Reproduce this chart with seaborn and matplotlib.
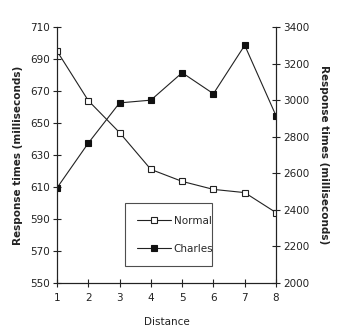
import matplotlib
matplotlib.use("Agg")
import matplotlib.pyplot as plt
import seaborn as sns
import pandas as pd

# Response times by distance for the two groups
distance = [1, 2, 3, 4, 5, 6, 7, 8]
normal_ms = [695, 664, 644, 621, 613.5, 608.5, 606.5, 594]
charles_ms = [2520, 2765, 2985, 3000, 3150, 3035, 3300, 2915]

left_ticks = [550, 570, 590, 610, 630, 650, 670, 690, 710]
right_ticks = [2000, 2200, 2400, 2600, 2800, 3000, 3200, 3400]

sns.set_style("ticks")
plt.rcParams["font.family"] = ["Liberation Sans Narrow", "DejaVu Sans Condensed", "DejaVu Sans"]

df = pd.DataFrame({"Distance": distance, "Normal": normal_ms, "Charles": charles_ms})

fig = plt.figure(figsize=(3.4, 3.35), dpi=100)
ax = fig.add_axes([57 / 340, 1 - 283 / 335, 219 / 340, 256 / 335])
ax2 = ax.twinx()

sns.lineplot(data=df, x="Distance", y="Normal", ax=ax, color="#222222",
             marker="s", markersize=5, markerfacecolor="white",
             markeredgecolor="#222222", markeredgewidth=0.8, linewidth=0.8,
             legend=False)
sns.lineplot(data=df, x="Distance", y="Charles", ax=ax2, color="#222222",
             marker="s", markersize=5, markerfacecolor="#111111",
             markeredgecolor="#111111", markeredgewidth=0.8, linewidth=0.8,
             legend=False)

ax.set_xlim(1, 8)
ax.set_ylim(550, 710)
ax2.set_ylim(2000, 3400)
ax.set_xticks(distance)
ax.set_yticks(left_ticks)
ax2.set_yticks(right_ticks)

for a in (ax, ax2):
    a.spines["top"].set_visible(False)
    for s in a.spines.values():
        s.set_linewidth(0.8)
        s.set_color("#222222")
    a.tick_params(direction="inout", length=6, width=0.8, labelsize=7.5,
                  colors="#222222", pad=2)
ax.tick_params(axis="x", pad=4)

lab_font = dict(fontsize=7.5, fontweight="bold", color="#222222")
ax.set_xlabel("Distance", fontsize=7.5, color="#222222", labelpad=10)
ax.set_ylabel("Response times (milliseconds)", labelpad=5, **lab_font)
ax2.set_ylabel("Response times (milliseconds)", rotation=270, labelpad=14, **lab_font)

handles = [ax.get_lines()[0], ax2.get_lines()[0]]
leg = ax.legend(handles, ["Normal", "Charles"], loc="lower left",
                bbox_to_anchor=(0.31, 0.066, 0.40, 0.245), mode="expand",
                handlelength=3.2, handletextpad=0.3, labelspacing=1.7,
                borderpad=1.2, fontsize=7.5, frameon=True, fancybox=False,
                borderaxespad=0)
leg.get_frame().set_edgecolor("#222222")
leg.get_frame().set_linewidth(0.8)

fig.savefig("out.png", dpi=100)
